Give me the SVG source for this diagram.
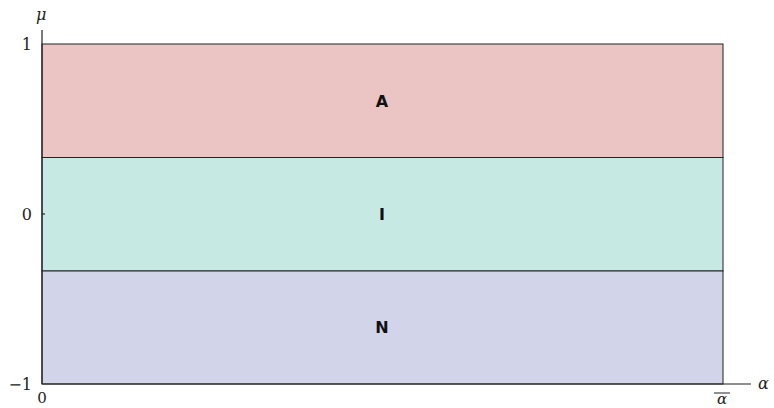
<svg xmlns="http://www.w3.org/2000/svg" width="774" height="408" viewBox="0 0 774 408">
  <style>
    .band { stroke: #222; stroke-width: 1; }
    .axis { stroke: #222; stroke-width: 1.2; fill: none; }
    .num { font-family: "DejaVu Serif", "Liberation Serif", serif; font-size: 16px; fill: #222; }
    .mvar { font-family: "DejaVu Serif", "Liberation Serif", serif; font-style: italic; font-size: 16px; fill: #222; }
    .zone { font-family: "DejaVu Sans", "Liberation Sans", sans-serif; font-weight: bold; font-size: 16px; fill: #111; text-anchor: middle; }
  </style>

  <!-- bands -->
  <g id="band-A">
    <rect class="band" x="42" y="44" width="681" height="113.5" fill="#ebc4c4"/>
    <text class="zone" x="382" y="107">A</text>
  </g>
  <g id="band-I">
    <rect class="band" x="42" y="157.5" width="681" height="113.5" fill="#c6eae3"/>
    <text class="zone" x="382" y="220">I</text>
  </g>
  <g id="band-N">
    <rect class="band" x="42" y="271" width="681" height="113" fill="#d2d4ea"/>
    <text class="zone" x="382" y="333">N</text>
  </g>

  <!-- axes -->
  <g id="axes">
    <line class="axis" x1="42" y1="30" x2="42" y2="384"/>
    <line class="axis" x1="42" y1="384" x2="751" y2="384"/>
    <line class="axis" x1="42" y1="214" x2="45" y2="214"/>
    <text class="mvar" x="36" y="20">μ</text>
    <text class="mvar" x="758" y="389">α</text>
    <text class="num" x="32" y="50" text-anchor="end">1</text>
    <text class="num" x="32" y="220" text-anchor="end">0</text>
    <text class="num" x="32" y="390" text-anchor="end">−1</text>
    <text class="num" x="42" y="403" text-anchor="middle" style="font-size:15px">0</text>
    <text class="mvar" x="722" y="404" text-anchor="middle" style="font-size:15px">α</text>
    <line x1="714" y1="393" x2="730" y2="393" stroke="#222" stroke-width="1"/>
  </g>
</svg>
